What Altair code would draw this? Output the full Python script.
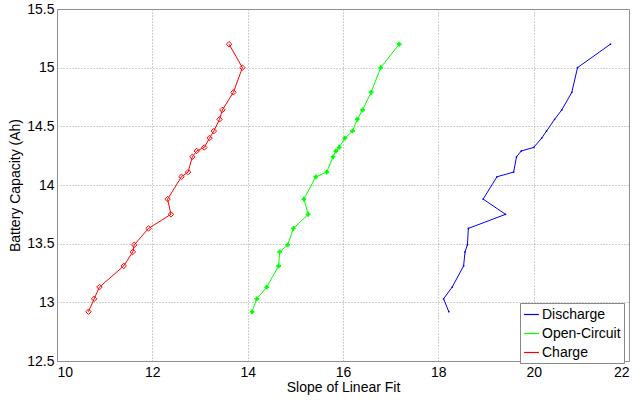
import altair as alt
import pandas as pd

capacity = [15.2, 15.0, 14.79, 14.64, 14.56, 14.46, 14.40, 14.32, 14.29, 14.24, 14.11,
            14.07, 13.88, 13.75, 13.63, 13.49, 13.43, 13.31, 13.13, 13.03, 12.92]
discharge = [21.61, 20.92, 20.80, 20.59, 20.44, 20.27, 20.17, 20.00, 19.74, 19.64, 19.58,
             19.23, 18.94, 19.41, 18.63, 18.61, 18.56, 18.53, 18.29, 18.11, 18.22]
open_circuit = [17.18, 16.79, 16.59, 16.41, 16.30, 16.20, 16.04, 15.92, 15.85, 15.79, 15.66,
                15.43, 15.18, 15.27, 14.96, 14.84, 14.67, 14.65, 14.40, 14.19, 14.09]
charge = [13.61, 13.89, 13.70, 13.47, 13.41, 13.29, 13.20, 13.09, 12.93, 12.84, 12.75,
          12.61, 12.32, 12.39, 11.92, 11.62, 11.59, 11.40, 10.89, 10.78, 10.66]

series_names = ["Discharge", "Open-Circuit", "Charge"]
series_colors = ["#0000FF", "#00FF00", "#FF0000"]
x_ticks = [10, 12, 14, 16, 18, 20, 22]
y_ticks = [12.5, 13, 13.5, 14, 14.5, 15, 15.5]

rows = []
for name, xs in zip(series_names, [discharge, open_circuit, charge]):
    for i, (xv, yv) in enumerate(zip(xs, capacity)):
        rows.append({"series": name, "slope": xv, "cap": yv, "idx": i})
df = pd.DataFrame(rows)

FONT = "Liberation Sans"
x_enc = alt.X("slope:Q", scale=alt.Scale(domain=[10, 22], nice=False),
              axis=alt.Axis(values=x_ticks, title="Slope of Linear Fit", format="~g",
                            labelPadding=4, titlePadding=1))
y_enc = alt.Y("cap:Q", scale=alt.Scale(domain=[12.5, 15.5], nice=False, zero=False),
              axis=alt.Axis(values=y_ticks, title="Battery Capacity (Ah)", format="~g",
                            labelPadding=3, titleX=-42, titleY=176,
                            titleAlign="center", titleBaseline="middle"))

lines = alt.Chart(df).mark_line(strokeWidth=1).encode(
    x=x_enc, y=y_enc, order="idx:Q",
    color=alt.Color("series:N",
                    scale=alt.Scale(domain=series_names, range=series_colors),
                    sort=series_names,
                    legend=alt.Legend(title=None, orient="none", legendX=463, legendY=294,
                                      fillColor="white", strokeColor="#888888",
                                      padding=3, symbolType="stroke", symbolSize=220,
                                      symbolStrokeWidth=1.2, labelFontSize=14,
                                      labelFont=FONT, rowPadding=3, labelOffset=2)))

pts_d = alt.Chart(df).transform_filter(alt.datum.series == "Discharge").mark_point(
    shape="circle", filled=True, size=3, color="#0000FF", opacity=1).encode(x="slope:Q", y="cap:Q")
pts_o = alt.Chart(df).transform_filter(alt.datum.series == "Open-Circuit").mark_point(
    shape="cross", filled=True, size=22, color="#00FF00", opacity=1).encode(x="slope:Q", y="cap:Q")
pts_c = alt.Chart(df).transform_filter(alt.datum.series == "Charge").mark_point(
    shape="diamond", filled=False, size=30, color="#FF0000", strokeWidth=1, opacity=1).encode(x="slope:Q", y="cap:Q")

chart = alt.layer(lines, pts_d, pts_o, pts_c).properties(
    width=572, height=352,
    autosize=alt.AutoSizeParams(type="none"),
    padding={"left": 57, "top": 9, "right": 7, "bottom": 39},
    background="white",
).configure_view(stroke="#888888", strokeWidth=1).configure_axis(
    domain=False, ticks=False, grid=True, gridColor="#a0a0a0", gridDash=[1, 2],
    gridWidth=1, labelFont=FONT, titleFont=FONT, labelFontSize=14, titleFontSize=14,
    titleFontWeight="normal", labelColor="black", titleColor="black",
)

chart.save("out.html", embed_options={"renderer": "svg", "actions": False})
